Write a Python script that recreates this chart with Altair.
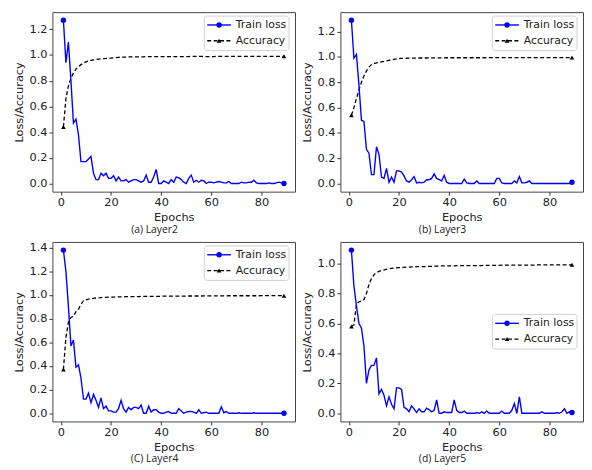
import altair as alt
import pandas as pd

epochs = list(range(1, 90))

loss_a = [1.27, 0.94, 1.10, 0.80, 0.47, 0.50, 0.38, 0.17, 0.17, 0.17,
          0.19, 0.21, 0.08, 0.03, 0.03, 0.08, 0.06, 0.08, 0.04, 0.04,
          0.06, 0.02, 0.05, 0.02, 0.02, 0.03, 0.01, 0.02, 0.03, 0.03,
          0.02, 0.01, 0.02, 0.065, 0.01, 0.01, 0.05, 0.11, 0.0, 0.0,
          0.02, 0.01, 0.0, 0.03, 0.01, 0.05, 0.045, 0.03, 0.01, 0.0,
          0.04, 0.065, 0.01, 0.025, 0.01, 0.025, 0.02, 0.0, 0.01, 0.01,
          0.005, 0.01, 0.015, 0.01, 0.005, 0.005, 0.015, 0.0, 0.0, 0.0,
          0.0, 0.01, 0.005, 0.005, 0.01, 0.01, 0.025, 0.005, 0.0, 0.0,
          0.0, 0.0, 0.005, 0.0, 0.0, 0.005, 0.01, 0.005, 0.0]
acc_a = [0.44, 0.66, 0.76, 0.82, 0.86, 0.89, 0.91, 0.925, 0.937, 0.946,
         0.953, 0.958, 0.962, 0.965, 0.968, 0.970, 0.972, 0.973, 0.975, 0.976,
         0.978, 0.980, 0.982, 0.983, 0.984, 0.984, 0.985, 0.985, 0.985, 0.986,
         0.986, 0.986, 0.986, 0.987, 0.987, 0.987, 0.987, 0.987, 0.987, 0.988,
         0.988, 0.988, 0.988, 0.988, 0.988, 0.988, 0.988, 0.988, 0.988, 0.988,
         0.988, 0.989, 0.989, 0.989, 0.989, 0.989, 0.988, 0.988, 0.988, 0.988,
         0.988, 0.989, 0.989, 0.989, 0.989, 0.989, 0.989, 0.989, 0.989, 0.989,
         0.989, 0.990, 0.990, 0.990, 0.990, 0.990, 0.990, 0.990, 0.990, 0.990,
         0.990, 0.990, 0.990, 0.990, 0.990, 0.990, 0.990, 0.990, 0.990]

loss_b = [1.29, 0.99, 1.02, 0.78, 0.50, 0.49, 0.27, 0.24, 0.07, 0.07,
          0.29, 0.23, 0.05, 0.04, 0.12, 0.01, 0.05, 0.01, 0.10, 0.10,
          0.09, 0.06, 0.02, 0.01, 0.03, 0.055, 0.005, 0.01, 0.005, 0.01,
          0.03, 0.03, 0.04, 0.075, 0.04, 0.03, 0.02, 0.065, 0.01, 0.0,
          0.0, 0.0, 0.0, 0.0, 0.0, 0.035, 0.005, 0.0, 0.0, 0.0,
          0.02, 0.0, 0.0, 0.0, 0.0, 0.0, 0.0, 0.0, 0.04, 0.04,
          0.005, 0.0, 0.0, 0.0, 0.0, 0.02, 0.005, 0.055, 0.005, 0.005,
          0.01, 0.02, 0.0, 0.0, 0.0, 0.0, 0.0, 0.0, 0.0, 0.0,
          0.0, 0.0, 0.0, 0.0, 0.0, 0.0, 0.0, 0.0, 0.01]
acc_b = [0.54, 0.60, 0.67, 0.74, 0.80, 0.85, 0.89, 0.92, 0.940, 0.948,
         0.953, 0.958, 0.962, 0.966, 0.970, 0.974, 0.978, 0.982, 0.985, 0.988,
         0.989, 0.990, 0.990, 0.991, 0.991, 0.991, 0.992, 0.992, 0.992, 0.992,
         0.992, 0.993, 0.993, 0.993, 0.993, 0.993, 0.993, 0.993, 0.994, 0.994,
         0.994, 0.994, 0.994, 0.994, 0.994, 0.994, 0.994, 0.994, 0.994, 0.994,
         0.994, 0.994, 0.994, 0.994, 0.995, 0.995, 0.995, 0.995, 0.995, 0.995,
         0.995, 0.995, 0.995, 0.995, 0.995, 0.995, 0.995, 0.995, 0.995, 0.995,
         0.995, 0.995, 0.995, 0.995, 0.995, 0.995, 0.995, 0.995, 0.995, 0.995,
         0.995, 0.995, 0.995, 0.995, 0.995, 0.995, 0.995, 0.995, 0.995]

loss_c = [1.38, 1.20, 0.90, 0.57, 0.62, 0.39, 0.41, 0.30, 0.12, 0.12,
          0.17, 0.09, 0.16, 0.11, 0.05, 0.13, 0.04, 0.06, 0.02, 0.02,
          0.01, 0.01, 0.04, 0.11, 0.04, 0.01, 0.05, 0.03, 0.05, 0.05,
          0.04, 0.07, 0.0, 0.0, 0.06, 0.01, 0.03, 0.03, 0.01, 0.0,
          0.0, 0.01, 0.015, 0.0, 0.0, 0.0, 0.04, 0.02, 0.0, 0.01,
          0.015, 0.015, 0.01, 0.0, 0.03, 0.0, 0.005, 0.01, 0.0, 0.0,
          0.0, 0.0, 0.0, 0.055, 0.005, 0.015, 0.0, 0.0, 0.0, 0.0,
          0.005, 0.0, 0.0, 0.0, 0.0, 0.0, 0.005, 0.0, 0.0, 0.0,
          0.0, 0.0, 0.0, 0.0, 0.0, 0.0, 0.0, 0.0, 0.0]
acc_c = [0.37, 0.64, 0.77, 0.81, 0.82, 0.86, 0.88, 0.92, 0.952, 0.960,
         0.965, 0.969, 0.972, 0.975, 0.977, 0.979, 0.980, 0.981, 0.982, 0.983,
         0.983, 0.984, 0.984, 0.985, 0.985, 0.986, 0.986, 0.986, 0.987, 0.987,
         0.987, 0.988, 0.988, 0.988, 0.988, 0.989, 0.989, 0.989, 0.989, 0.990,
         0.990, 0.990, 0.990, 0.990, 0.991, 0.991, 0.991, 0.991, 0.991, 0.992,
         0.992, 0.992, 0.992, 0.992, 0.992, 0.992, 0.993, 0.993, 0.993, 0.993,
         0.993, 0.993, 0.993, 0.993, 0.993, 0.993, 0.994, 0.994, 0.994, 0.994,
         0.994, 0.994, 0.994, 0.994, 0.994, 0.994, 0.994, 0.994, 0.994, 0.995,
         0.995, 0.995, 0.995, 0.995, 0.995, 0.995, 0.995, 0.995, 0.995]

loss_d = [1.09, 0.85, 0.72, 0.60, 0.57, 0.45, 0.20, 0.29, 0.32, 0.32,
          0.37, 0.13, 0.16, 0.12, 0.05, 0.11, 0.06, 0.03, 0.17, 0.17,
          0.16, 0.04, 0.03, 0.01, 0.05, 0.03, 0.005, 0.03, 0.01, 0.01,
          0.035, 0.025, 0.01, 0.02, 0.09, 0.0, 0.0, 0.01, 0.005, 0.005,
          0.005, 0.09, 0.02, 0.005, 0.005, 0.015, 0.0, 0.0, 0.0, 0.0,
          0.005, 0.0, 0.01, 0.0, 0.015, 0.0, 0.0, 0.0, 0.0, 0.0,
          0.015, 0.0, 0.0, 0.0, 0.02, 0.065, 0.0, 0.11, 0.0, 0.0,
          0.0, 0.0, 0.0, 0.0, 0.0, 0.0, 0.01, 0.0, 0.0, 0.0,
          0.0, 0.0, 0.005, 0.0, 0.01, 0.03, 0.0, 0.01, 0.005]
acc_d = [0.58, 0.59, 0.73, 0.745, 0.75, 0.76, 0.80, 0.86, 0.90, 0.925,
         0.940, 0.948, 0.954, 0.958, 0.962, 0.965, 0.968, 0.970, 0.972, 0.973,
         0.974, 0.975, 0.976, 0.977, 0.978, 0.978, 0.979, 0.979, 0.980, 0.980,
         0.981, 0.981, 0.982, 0.982, 0.983, 0.983, 0.984, 0.984, 0.985, 0.985,
         0.985, 0.985, 0.986, 0.986, 0.986, 0.986, 0.986, 0.987, 0.987, 0.987,
         0.987, 0.987, 0.987, 0.988, 0.988, 0.988, 0.988, 0.988, 0.988, 0.988,
         0.989, 0.989, 0.989, 0.989, 0.989, 0.989, 0.989, 0.990, 0.990, 0.990,
         0.990, 0.990, 0.990, 0.990, 0.991, 0.991, 0.991, 0.991, 0.991, 0.991,
         0.992, 0.992, 0.992, 0.992, 0.992, 0.992, 0.992, 0.992, 0.992]

captions = ["(a) Layer2", "(b) Layer3", "(C) Layer4", "(d) Layer5"]
yticks_list = [[0.0, 0.2, 0.4, 0.6, 0.8, 1.0, 1.2],
               [0.0, 0.2, 0.4, 0.6, 0.8, 1.0, 1.2],
               [0.0, 0.2, 0.4, 0.6, 0.8, 1.0, 1.2, 1.4],
               [0.0, 0.2, 0.4, 0.6, 0.8, 1.0]]
legend_labels = ["Train loss", "Accuracy"]
xticks = [0, 20, 40, 60, 80]

W, H = 246, 182
FONT = "DejaVu Sans"
BLUE = "#0000ff"


def panel(loss, acc, yticks, caption, legend_mid):
    df = pd.DataFrame({"epoch": epochs, "loss": loss, "acc": acc})
    ends = df.iloc[[0, len(df) - 1]]
    lo = min(min(loss), min(acc))
    hi = max(max(loss), max(acc))
    r = hi - lo
    yscale = alt.Scale(domain=[lo - 0.05 * r, hi + 0.05 * r], nice=False, zero=False)
    xscale = alt.Scale(domain=[1 - 0.05 * 88, 89 + 0.05 * 88], nice=False, zero=False)
    xax = alt.Axis(values=xticks, title="Epochs", format="d", titlePadding=3)
    yax = alt.Axis(values=yticks, title="Loss/Accuracy", format=".1f", titlePadding=4)

    def X():
        return alt.X("epoch:Q", scale=xscale, axis=xax)

    def Y(f):
        return alt.Y(f + ":Q", scale=yscale, axis=yax)

    acc_line = alt.Chart(df).mark_line(color="black", strokeWidth=1.3, strokeDash=[4, 2.5]).encode(x=X(), y=Y("acc"))
    loss_line = alt.Chart(df).mark_line(color=BLUE, strokeWidth=1.4).encode(x=X(), y=Y("loss"))
    acc_pts = alt.Chart(ends).mark_point(shape="triangle-up", filled=True, color="black", size=22, opacity=1).encode(x=X(), y=Y("acc"))
    loss_pts = alt.Chart(ends).mark_point(shape="circle", filled=True, color=BLUE, size=30, opacity=1).encode(x=X(), y=Y("loss"))

    # legend box (layout only)
    bw, bh = 86, 35
    x1 = W - 6 - bw
    y1 = (H / 2 - bh / 2) if legend_mid else 4
    box_df = pd.DataFrame({"k": [0]})
    box = alt.Chart(box_df).mark_rect(fill="white", stroke="#cccccc", strokeWidth=1, cornerRadius=3, opacity=0.9).encode(
        x=alt.value(x1), x2=alt.value(x1 + bw), y=alt.value(y1), y2=alt.value(y1 + bh))
    ya, yb = y1 + 9, y1 + 25
    lg_loss = alt.Chart(box_df).mark_rule(color=BLUE, strokeWidth=1.4).encode(
        x=alt.value(x1 + 3), x2=alt.value(x1 + 27), y=alt.value(ya))
    lg_acc = alt.Chart(box_df).mark_rule(color="black", strokeWidth=1.3, strokeDash=[4, 2.5]).encode(
        x=alt.value(x1 + 3), x2=alt.value(x1 + 27), y=alt.value(yb))
    lg_loss_pt = alt.Chart(box_df).mark_point(shape="circle", filled=True, color=BLUE, size=30, opacity=1).encode(
        x=alt.value(x1 + 15), y=alt.value(ya))
    lg_acc_pt = alt.Chart(box_df).mark_point(shape="triangle-up", filled=True, color="black", size=22, opacity=1).encode(
        x=alt.value(x1 + 15), y=alt.value(yb))
    txt_df = pd.DataFrame({"label": legend_labels, "yy": [ya, yb]})
    lg_txt = alt.Chart(txt_df).mark_text(align="left", baseline="middle", font=FONT, fontSize=11, color="#222").encode(
        x=alt.value(x1 + 32), y=alt.Y("yy:Q", scale=None, axis=None), text="label:N")

    return alt.layer(acc_line, loss_line, acc_pts, loss_pts, box, lg_loss, lg_acc, lg_loss_pt, lg_acc_pt, lg_txt).properties(
        width=W, height=H,
        title=alt.TitleParams(caption, orient="bottom", anchor="middle", frame="bounds", font="Open Sans",
                              fontSize=10.5, fontWeight="normal", color="#222", offset=2))


pa = panel(loss_a, acc_a, yticks_list[0], captions[0], False)
pb = panel(loss_b, acc_b, yticks_list[1], captions[1], False)
pc = panel(loss_c, acc_c, yticks_list[2], captions[2], False)
pd_ = panel(loss_d, acc_d, yticks_list[3], captions[3], True)

chart = alt.vconcat(
    alt.hconcat(pa, pb, spacing=5),
    alt.hconcat(pc, pd_, spacing=5),
    spacing=5,
).properties(padding={"left": 5, "top": 0, "right": 0, "bottom": 0}).configure_axis(
    labelFont=FONT, titleFont=FONT, labelFontSize=11.5, titleFontSize=11.5, titleFontWeight="normal",
    labelColor="#222", titleColor="#222", tickColor="#333", tickSize=3.5, labelPadding=2,
    grid=False, domain=False
).configure_view(stroke="#444", strokeWidth=1).configure_title(font="Open Sans")

chart.save("out.html", embed_options={"renderer": "svg", "actions": False})
